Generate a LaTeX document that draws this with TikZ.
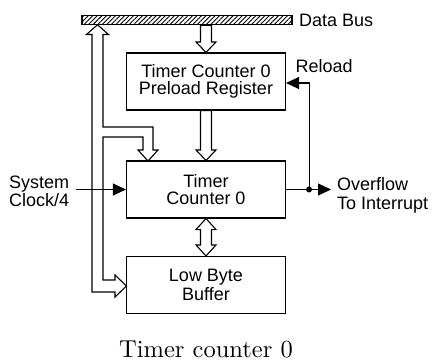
\documentclass[tikz,border=0pt]{standalone}
\usepackage{fontspec}
\setsansfont{Liberation Sans}
\newfontfamily\capfont{lmroman10-regular.otf}
\usetikzlibrary{arrows.meta,patterns.meta,calc}

\tikzset{
  block/.style={draw, line width=1.1pt, minimum width=159pt, minimum height=57pt,
    inner sep=0pt, align=center, font=\sffamily\fontsize{18}{16.5}\selectfont},
  txt/.style={inner sep=0pt, align=left, font=\sffamily\fontsize{18}{18.5}\selectfont},
  sig/.style={line width=1.1pt, -{Triangle[length=13pt,width=12pt]}},
  hollow/.style={draw, line width=1.1pt, fill=white, line join=miter}
}

% hollow bus arrow, pointing down from #1 to #2
\newcommand\busdown[2]{%
  \draw[hollow] let \p1=(#1), \p2=(#2) in
    (\x2-5.5pt,\y1) -- (\x2+5.5pt,\y1) -- (\x2+5.5pt,\y2+10.5pt) -- (\x2+10pt,\y2+10.5pt)
    -- (\x2,\y2) -- (\x2-10pt,\y2+10.5pt) -- (\x2-5.5pt,\y2+10.5pt) -- cycle;}
% hollow bus arrow with a head at both ends
\newcommand\busboth[2]{%
  \draw[hollow] let \p1=(#1), \p2=(#2) in
    (\x1,\y1) -- (\x1+10pt,\y1-11pt) -- (\x1+5.5pt,\y1-11pt) -- (\x1+5.5pt,\y2+11pt)
    -- (\x1+10pt,\y2+11pt) -- (\x1,\y2) -- (\x1-10pt,\y2+11pt) -- (\x1-5.5pt,\y2+11pt)
    -- (\x1-5.5pt,\y1-11pt) -- (\x1-10pt,\y1-11pt) -- cycle;}

\begin{document}
\begin{tikzpicture}[x=1pt, y=-1pt]
    \useasboundingbox (0,0) rectangle (435,362);

    % Draw the data bus
    \node[draw, line width=1.1pt, minimum width=210pt, minimum height=9.5pt, inner sep=0pt,
      pattern={Lines[angle=45, distance=3.2pt, line width=0.9pt]}] (bus) at (187,20) {};
    \node[txt, anchor=west] (buslbl) at ($(bus.east)+(6.5,0)$) {Data Bus};

    % Draw the blocks
    \node[block] (pre) at (206,81.5) {Timer Counter 0\\Preload Register};
    \node[block] (tc) at (206,189.5) {Timer\\Counter 0};
    \node[block, font=\sffamily\fontsize{18}{19.3}\selectfont] (lbb) at (206,285) {Low Byte\\Buffer};

    % Bus arrows between the blocks
    \busdown{bus.south -| pre.north}{pre.north}
    \busdown{pre.south}{tc.north}
    \busboth{tc.south}{lbb.north}

    % Branch from the data bus to the counter and the buffer
    \draw[hollow] (92,34.5) -- (86.5,34.5) -- (97.5,24.75) -- (108.5,34.5) -- (103,34.5)
      -- (103,127) -- (153,127) -- (153,150) -- (158,150) -- (148,161) -- (138,150)
      -- (143,150) -- (143,137) -- (103,137) -- (103,280) -- (115,280) -- (115,275)
      -- (126.5,286) -- (115,297) -- (115,292) -- (92,292) -- cycle;

    % Clock input
    \node[txt, anchor=west] (clk) at (9,191.4) {System\\Clock/4};
    \draw[sig, shorten <=7pt] (tc.west -| clk.east) -- (tc.west);

    % Overflow output and reload
    \node[txt, anchor=west] (ovf) at (337,195.2) {Overflow\\To Interrupt};
    \coordinate (tap) at ($(tc.east)+(23,0)$);
    \draw[sig, shorten >=6pt] (tc.east) -- (tc.east -| ovf.west);
    \fill (tap) circle (3pt);
    \coordinate (rl) at ($(pre.east)+(0,1.5)$);
    \draw[sig] (tap) |- (rl);
    \node[txt, anchor=west] (rllbl) at (295.5,65.8) {Reload};

    % Caption
    \node[inner sep=0pt, anchor=base, font=\capfont\fontsize{24.5}{29}\selectfont] (cap) at (206,357.8) {Timer counter 0};
\end{tikzpicture}
\end{document}
